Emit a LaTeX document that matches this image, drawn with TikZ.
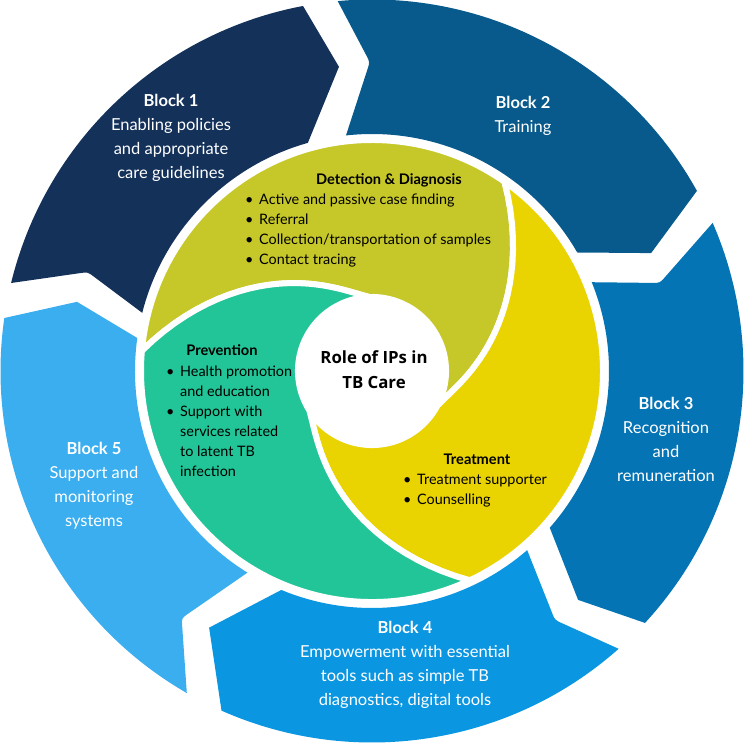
\documentclass[tikz,border=0pt]{standalone}
\usepackage{fontspec}
\setmainfont{Lato}
\newfontfamily\rolefont{Open Sans}
\usetikzlibrary{calc}
\definecolor{BlockNavy}{HTML}{14315A}
\definecolor{BlockDeep}{HTML}{075A8B}
\definecolor{BlockMid}{HTML}{0574B5}
\definecolor{BlockBright}{HTML}{0B96E1}
\definecolor{BlockSky}{HTML}{3BAEEF}
\definecolor{DetOlive}{HTML}{C6C82A}
\definecolor{TrtYellow}{HTML}{E9D300}
\definecolor{PrevGreen}{HTML}{22C597}
\newcommand{\ipbul}{\makebox[14pt][l]{\textbullet}}
\newcommand{\ipind}{\hspace*{14pt}}

\begin{document}
\begin{tikzpicture}[x=1pt,y=1pt,
  piece/.style={draw=white,line width=6pt,line join=round},
  blocktxt/.style={text=white,align=center,font=\fontsize{16.5}{24}\selectfont},
  headtxt/.style={font=\fontsize{14.6}{20}\selectfont\bfseries},
  listtxt/.style={anchor=west,align=left,inner sep=0pt,font=\fontsize{14.4}{20}\selectfont},
  roletxt/.style={align=center,font=\rolefont\bfseries\fontsize{16.8}{25}\selectfont}]
\useasboundingbox (-372,-372) rectangle (372,371);
% outer ring of five blocks (notch rounded)
\fill[BlockNavy] (166.3:371.5) arc[start angle=166.3,end angle=100.7,radius=371.5pt]
  -- (96.2:306) -- (105.7:237) arc[start angle=105.7,end angle=165.8,radius=237pt]
  -- ($(160.8:301)!8pt!(165.8:237)$) .. controls (160.8:301) .. ($(160.8:301)!8pt!(166.3:371.5)$) -- cycle;
\fill[BlockDeep] (95.3:371.5) arc[start angle=95.3,end angle=29,radius=371.5pt]
  -- (22.9:303) -- (30:237) arc[start angle=30,end angle=96.3,radius=237pt]
  -- ($(90.4:309)!8pt!(96.3:237)$) .. controls (90.4:309) .. ($(90.4:309)!8pt!(95.3:371.5)$) -- cycle;
\fill[BlockMid] (23.5:371.5) arc[start angle=23.5,end angle=-42.7,radius=371.5pt]
  -- (-48:308) -- (-41.4:237) arc[start angle=-41.4,end angle=22,radius=237pt]
  -- ($(17:301)!8pt!(22:237)$) .. controls (17:301) .. ($(17:301)!8pt!(23.5:371.5)$) -- cycle;
\fill[BlockBright] (-48.4:371.5) arc[start angle=-48.4,end angle=-113.9,radius=371.5pt]
  -- (-122.4:304) -- (-112.5:237) arc[start angle=-112.5,end angle=-49.1,radius=237pt]
  -- ($(-53.7:309)!8pt!(-49.1:237)$) .. controls (-53.7:309) .. ($(-53.7:309)!8pt!(-48.4:371.5)$) -- cycle;
\fill[BlockSky] (-119.9:371.5) arc[start angle=-119.9,end angle=-188.2,radius=371.5pt]
  -- (-193.2:303) -- (-188:237) arc[start angle=-188,end angle=-121.7,radius=237pt]
  -- ($(-127.6:312)!8pt!(-121.7:237)$) .. controls (-127.6:312) .. ($(-127.6:312)!8pt!(-119.9:371.5)$) -- cycle;
% swirl
\fill[DetOlive,piece] (175:231) arc[start angle=175,end angle=55,radius=231pt]
  -- plot[domain=1:0,samples=30,variable=\u] ({-28+83*\u}:{74+157*(0.2*\u+0.8*\u*\u)})
  arc[start angle=-28,end angle=92,radius=74pt]
  -- plot[domain=0:1,samples=30,variable=\u] ({92+83*\u}:{74+157*(0.2*\u+0.8*\u*\u)}) -- cycle;
\fill[TrtYellow,piece] (55:231) arc[start angle=55,end angle=-65,radius=231pt]
  -- plot[domain=1:0,samples=30,variable=\u] ({-148+83*\u}:{74+157*(0.2*\u+0.8*\u*\u)})
  arc[start angle=-148,end angle=-28,radius=74pt]
  -- plot[domain=0:1,samples=30,variable=\u] ({-28+83*\u}:{74+157*(0.2*\u+0.8*\u*\u)}) -- cycle;
\fill[PrevGreen,piece] (-65:231) arc[start angle=-65,end angle=-185,radius=231pt]
  -- plot[domain=1:0,samples=30,variable=\u] ({92+83*\u}:{74+157*(0.2*\u+0.8*\u*\u)})
  arc[start angle=92,end angle=212,radius=74pt]
  -- plot[domain=0:1,samples=30,variable=\u] ({-148+83*\u}:{74+157*(0.2*\u+0.8*\u*\u)}) -- cycle;
% block texts
\node[blocktxt] (b1) at (-201,233) {\textbf{Block 1}\\Enabling policies\\and appropriate\\care guidelines};
\node[blocktxt] (b2) at (151,255) {\textbf{Block 2}\\Training};
\node[blocktxt] (b3) at (294,-68) {\textbf{Block 3}\\Recognition\\and\\remuneration};
\node[blocktxt] (b4) at (33,-293.5) {\textbf{Block 4}\\Empowerment with essential\\tools such as simple TB\\diagnostics, digital tools};
\node[blocktxt] (b5) at (-278,-114.5) {\textbf{Block 5}\\Support and\\monitoring\\systems};
% swirl texts
\node[headtxt] (dethead) at (17,191) {Detection \& Diagnosis};
\node[listtxt] (detlist) at (-127,140.5) {\ipbul Active and passive case finding\\
  \ipbul Referral\\ \ipbul Collection/transportation of samples\\ \ipbul Contact tracing};
\node[headtxt] (prevhead) at (-150,20.5) {Prevention};
\node[listtxt] (prevlist) at (-206,-50.5) {\ipbul Health promotion\\ \ipind and education\\
  \ipbul Support with\\ \ipind services related\\ \ipind to latent TB\\ \ipind infection};
\node[headtxt] (trthead) at (105,-88.5) {Treatment};
\node[listtxt] (trtlist) at (31,-119.5) {\ipbul Treatment supporter\\ \ipbul Counselling};
\node[roletxt] (role) at (2,1.5) {Role of IPs in\\TB Care};
\end{tikzpicture}
\end{document}
